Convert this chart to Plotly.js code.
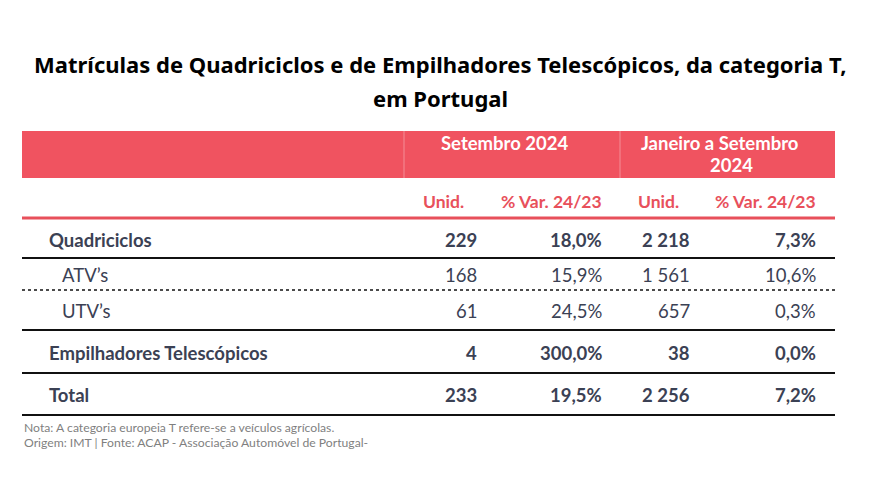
<!DOCTYPE html>
<html>
<head>
<meta charset="utf-8">
<script src="https://cdn.plot.ly/plotly-3.0.1.min.js"></script>
<style>
  html, body { margin: 0; padding: 0; background: #fff; }
  #chart { width: 875px; height: 500px; }
</style>
</head>
<body>
<div id="chart"></div>
<script>
// === DATA ===
const titleLines = ["Matrículas de Quadriciclos e de Empilhadores Telescópicos, da categoria T,", "em Portugal"];
const groupLabels = ["Setembro 2024", "Janeiro a Setembro", "2024"];
const subLabels = ["Unid.", "% Var. 24/23", "Unid.", "% Var. 24/23"];
const rowLabels = ["Quadriciclos", "ATV’s", "UTV’s", "Empilhadores Telescópicos", "Total"];
const rowBold = [true, false, false, true, true];
const setUnid = [229, 168, 61, 4, 233];
const setVar = [18.0, 15.9, 24.5, 300.0, 19.5];
const ytdUnid = [2218, 1561, 657, 38, 2256];
const ytdVar = [7.3, 10.6, 0.3, 0.0, 7.2];
const notes = ["Nota: A categoria europeia T refere-se a veículos agrícolas.",
  "Origem: IMT | Fonte: ACAP - Associação Automóvel de Portugal-"];

// === LAYOUT CONSTANTS (pixel space) ===
const LEFT = 22, RIGHT = 835;
const colEdges = [404, 495, 620, 708];
const colRight = [479, 604, 692, 818];
const subX = [443, 551, 658, 765];
const rowY = [240, 275, 311, 353, 395];
const sepY = [258, 290, 330, 373, 415];
const sepDash = ["solid", "dot", "solid", "solid", "solid"];
const RED = "#F05360";
const INK = "#3b4154";

function fmtUnits(n) {
  return String(n).replace(/\B(?=(\d{3})+(?!\d))/g, " ");
}
function fmtPct(n) {
  return n.toFixed(1).replace(".", ",") + "%";
}

const annotations = [];
const shapes = [];

function txt(text, x, y, opts) {
  annotations.push(Object.assign({
    text: text, x: x, y: y, xref: "x", yref: "y",
    showarrow: false, xanchor: "center", yanchor: "middle",
    font: { family: "Lato", size: 18, color: INK }
  }, opts));
}

// title
const titleFont = { family: "Noto Sans", size: 22, color: "#000", weight: 700 };
txt(titleLines[0], 440, 64, { font: titleFont });
txt(titleLines[1], 440, 98, { font: titleFont });

// header band
shapes.push({ type: "rect", xref: "x", yref: "y", x0: LEFT, x1: RIGHT, y0: 131, y1: 178,
  fillcolor: RED, line: { width: 0 }, layer: "below" });
[colEdges[0], colEdges[2]].forEach(x => shapes.push({ type: "line", xref: "x", yref: "y",
  x0: x, x1: x, y0: 131, y1: 178, line: { color: "rgba(255,255,255,0.35)", width: 1 } }));

const headFont = { family: "Lato", size: 18.5, color: "#fff", weight: 700 };
txt(groupLabels[0], 505, 143, { font: headFont });
txt(groupLabels[1], 720, 143, { font: headFont });
txt(groupLabels[2], 731, 165, { font: headFont });

// sub header
subLabels.forEach((s, i) => txt(s, subX[i], 201, { font: { family: "Lato", size: 17.5, color: "#E8505B", weight: 700 } }));
shapes.push({ type: "line", xref: "x", yref: "y", x0: LEFT, x1: RIGHT, y0: 218, y1: 218,
  line: { color: "#E8505B", width: 3 } });

// body rows
rowLabels.forEach((lab, i) => {
  const w = rowBold[i] ? 700 : 400;
  const f = { family: "Lato", size: 18.5, color: INK, weight: w };
  txt(lab, rowBold[i] ? 47 : 60, rowY[i], { xanchor: "left", font: f });
  const vals = [fmtUnits(setUnid[i]), fmtPct(setVar[i]), fmtUnits(ytdUnid[i]), fmtPct(ytdVar[i])];
  vals.forEach((v, j) => txt(v, colRight[j], rowY[i], { xanchor: "right", font: f }));
  shapes.push({ type: "line", xref: "x", yref: "y", x0: LEFT, x1: RIGHT, y0: sepY[i], y1: sepY[i],
    line: { color: "#111", width: sepDash[i] === "dot" ? 1.5 : 2, dash: sepDash[i] } });
});

// notes
notes.forEach((n, i) => txt(n, 22, 427 + i * 15, { xanchor: "left",
  font: { family: "Lato", size: 12.2, color: "#7f7f7f" } }));

const layout = {
  width: 875, height: 500,
  margin: { l: 0, r: 0, t: 0, b: 0 },
  paper_bgcolor: "#fff", plot_bgcolor: "#fff",
  xaxis: { range: [0, 875], visible: false, fixedrange: true },
  yaxis: { range: [500, 0], visible: false, fixedrange: true },
  showlegend: false,
  annotations: annotations,
  shapes: shapes
};

Plotly.newPlot("chart", [{ x: [], y: [], type: "scatter" }], layout, { staticPlot: true });
</script>
</body>
</html>
